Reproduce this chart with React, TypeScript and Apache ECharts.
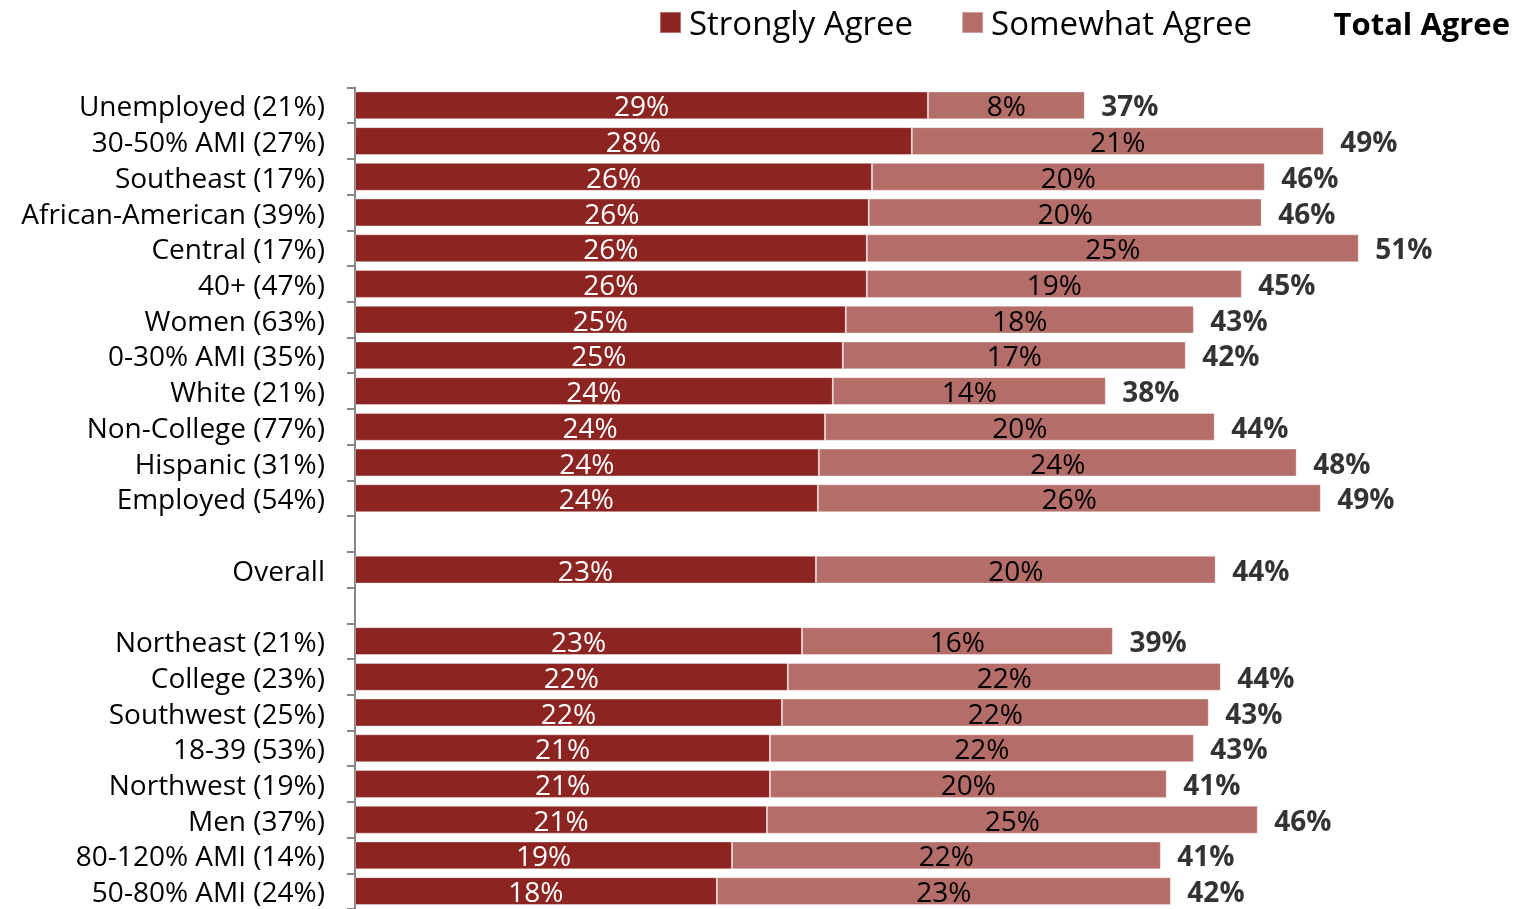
import React, { useEffect, useRef } from "react";
import * as echarts from "echarts";

const categories = [
  "Unemployed (21%)",
  "30-50% AMI (27%)",
  "Southeast (17%)",
  "African-American (39%)",
  "Central (17%)",
  "40+ (47%)",
  "Women (63%)",
  "0-30% AMI (35%)",
  "White (21%)",
  "Non-College (77%)",
  "Hispanic (31%)",
  "Employed (54%)",
  " ",
  "Overall",
  "  ",
  "Northeast (21%)",
  "College (23%)",
  "Southwest (25%)",
  "18-39 (53%)",
  "Northwest (19%)",
  "Men (37%)",
  "80-120% AMI (14%)",
  "50-80% AMI (24%)",
];

const stronglyAgree: (number | null)[] = [
  29.15, 28.33, 26.3, 26.14, 26.04, 26.04, 24.97, 24.82, 24.31, 23.91, 23.6, 23.55,
  null, 23.45, null,
  22.74, 22.02, 21.72, 21.11, 21.11, 20.96, 19.18, 18.41,
];

const somewhatAgree: (number | null)[] = [
  7.98, 20.96, 19.99, 19.99, 25.03, 19.08, 17.71, 17.45, 13.89, 19.83, 24.31, 25.59,
  null, 20.34, null,
  15.82, 22.03, 21.72, 21.57, 20.19, 24.97, 21.82, 23.1,
];

const seriesNames = ["Strongly Agree", "Somewhat Agree"];
const totalTitle = "Total Agree";

const FONT = "Open Sans";
const DARK = "#8C2422";
const LIGHT = "#B46D69";

export default function App() {
  const ref = useRef<HTMLDivElement>(null);

  useEffect(() => {
    if (!ref.current) return;
    const chart = echarts.init(ref.current, null, { renderer: "svg" });

    const totals: any[] = [];
    categories.forEach((_, i) => {
      const a = stronglyAgree[i];
      const b = somewhatAgree[i];
      if (a != null && b != null) totals.push([a + b, i]);
    });

    const pct = (p: any) => Math.round(p.value) + "%";

    chart.setOption({
      animation: false,
      textStyle: { fontFamily: FONT },
      legend: {
        data: seriesNames,
        left: 659,
        top: 6,
        padding: 0,
        icon: "rect",
        itemWidth: 21,
        itemHeight: 21,
        itemGap: 48,
        textStyle: {
          fontSize: 33,
          lineHeight: 33,
          color: "#000",
          fontFamily: FONT,
          padding: [0, 0, 0, 3],
        },
      },
      graphic: [
        {
          type: "text",
          x: 1510,
          y: 23,
          style: {
            text: totalTitle,
            fontSize: 31,
            lineHeight: 31,
            fontWeight: "bold",
            fontFamily: FONT,
            fill: "#000",
            align: "right",
            textAlign: "right",
            verticalAlign: "middle",
            textVerticalAlign: "middle",
          },
        },
      ],
      grid: { left: 355, top: 87.5, width: 1081, height: 826, containLabel: false },
      xAxis: {
        type: "value",
        min: 0,
        max: 55,
        show: false,
        splitLine: { show: false },
      },
      yAxis: {
        type: "category",
        data: categories,
        inverse: true,
        axisLine: { show: true, lineStyle: { color: "#868686", width: 2 } },
        axisTick: { show: true, length: 8, interval: 0, lineStyle: { color: "#868686", width: 2 } },
        axisLabel: { fontSize: 28, color: "#000", fontFamily: FONT, margin: 30, interval: 0 },
      },
      series: [
        {
          name: seriesNames[0],
          type: "bar",
          stack: "total",
          barCategoryGap: "22%",
          itemStyle: { color: DARK, borderColor: "rgba(255,255,255,0.35)", borderWidth: 1 },
          label: { show: true, position: "inside", color: "#fff", fontSize: 28, fontFamily: FONT, formatter: pct },
          data: stronglyAgree.map((v) => (v == null ? "-" : v)),
        },
        {
          name: seriesNames[1],
          type: "bar",
          stack: "total",
          barCategoryGap: "22%",
          itemStyle: { color: LIGHT, borderColor: "rgba(255,255,255,0.35)", borderWidth: 1 },
          label: { show: true, position: "inside", color: "#000", fontSize: 28, fontFamily: FONT, formatter: pct },
          data: somewhatAgree.map((v) => (v == null ? "-" : v)),
        },
        {
          name: totalTitle,
          type: "scatter",
          symbolSize: 1,
          itemStyle: { color: "rgba(0,0,0,0)" },
          label: {
            show: true,
            position: "right",
            distance: 16,
            color: "#000",
            fontSize: 28,
            fontWeight: "bold",
            fontFamily: FONT,
            formatter: (p: any) => Math.round(p.value[0]) + "%",
          },
          data: totals,
        },
      ],
    });

    return () => chart.dispose();
  }, []);

  return (
    <div
      ref={ref}
      style={{ position: "fixed", left: 0, top: 0, width: 1515, height: 909 }}
    />
  );
}
